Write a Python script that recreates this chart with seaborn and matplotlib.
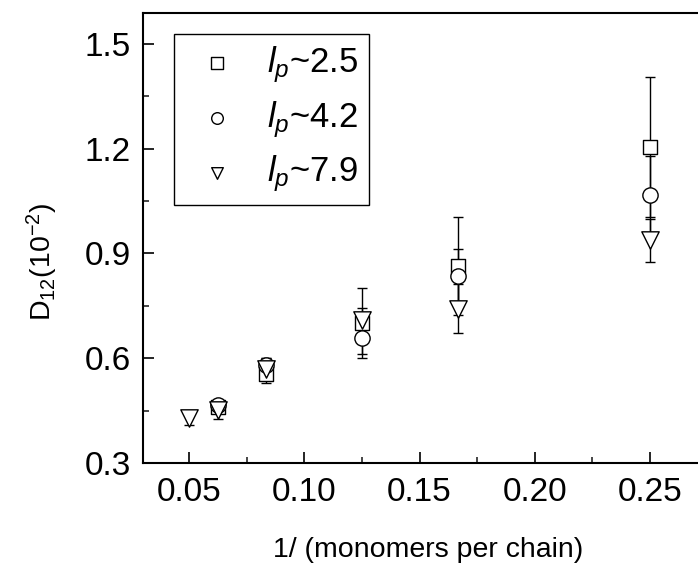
import matplotlib
matplotlib.use("Agg")
import matplotlib.pyplot as plt
import seaborn as sns
import pandas as pd
import numpy as np
from matplotlib.ticker import MultipleLocator

# ---- data ----
x_sq = [0.0625, 0.0833, 0.125, 0.1667, 0.25]
y_sq = [0.46, 0.555, 0.70, 0.865, 1.205]
e_sq = [0.01, 0.027, 0.10, 0.14, 0.20]

x_ci = [0.0625, 0.0833, 0.125, 0.1667, 0.25]
y_ci = [0.466, 0.58, 0.658, 0.834, 1.068]
e_ci = [0.01, 0.02, 0.047, 0.079, 0.11]

x_tr = [0.05, 0.0625, 0.0833, 0.125, 0.1667, 0.25]
y_tr = [0.43, 0.451, 0.57, 0.709, 0.742, 0.937]
e_tr = [0.02, 0.025, 0.03, 0.036, 0.071, 0.062]

labels = [r"$\mathit{l}_{p}$~2.5", r"$\mathit{l}_{p}$~4.2", r"$\mathit{l}_{p}$~7.9"]
xtick_labels = ["0.05", "0.10", "0.15", "0.20", "0.25"]
ytick_labels = ["0.3", "0.6", "0.9", "1.2", "1.5"]
markers = ["s", "o", "v"]
msizes = [9.5, 11, 12.5]

sns.set_theme(style="ticks")
plt.rcParams["font.family"] = ["Liberation Sans", "DejaVu Sans"]
plt.rcParams["mathtext.fontset"] = "custom"
plt.rcParams["mathtext.rm"] = "Liberation Sans"
plt.rcParams["mathtext.it"] = "Liberation Sans:italic"
plt.rcParams["text.color"] = "black"
plt.rcParams["axes.labelcolor"] = "black"

frames = []
for lab, xs, ys, es in zip(labels, [x_sq, x_ci, x_tr], [y_sq, y_ci, y_tr], [e_sq, e_ci, e_tr]):
    frames.append(pd.DataFrame({"x": xs, "y": ys, "err": es, "series": lab}))
df = pd.concat(frames, ignore_index=True)

fig = plt.figure(figsize=(6.98, 5.74), dpi=100)
ax = fig.add_axes([0.2049, 0.1934, 0.7951, 0.7844])

for lab in labels:
    d = df[df.series == lab]
    ax.errorbar(d.x, d.y, yerr=d.err, fmt="none", ecolor="black", elinewidth=1.0,
                capsize=3.6, capthick=1.0, zorder=2)

for lab, m, s in zip(labels, markers, msizes):
    d = df[df.series == lab]
    sns.scatterplot(data=d, x="x", y="y", marker=m, s=s**2, facecolor="white",
                    edgecolor="black", linewidth=1.0, ax=ax, label=lab, zorder=3)

ax.set_xlim(0.0300, 0.2708)
ax.set_ylim(0.3, 1.589)
ax.xaxis.set_minor_locator(MultipleLocator(0.025))
ax.yaxis.set_minor_locator(MultipleLocator(0.15))
ax.set_xticks([0.05, 0.10, 0.15, 0.20, 0.25])
ax.set_xticklabels(xtick_labels)
ax.set_yticks([0.3, 0.6, 0.9, 1.2, 1.5])
ax.set_yticklabels(ytick_labels)

ax.tick_params(axis="both", which="major", direction="in", length=8, width=1.2,
               labelsize=24, colors="black")
ax.tick_params(axis="both", which="minor", direction="in", length=4.5, width=1.2)
ax.tick_params(axis="x", which="major", pad=10)
ax.tick_params(axis="y", which="major", pad=9)

for side in ["left", "bottom", "top"]:
    ax.spines[side].set_linewidth(1.5)
    ax.spines[side].set_color("black")
ax.spines["right"].set_visible(False)

ax.set_xlabel("1/ (monomers per chain)", fontsize=20.5)
ax.set_ylabel(r"D$_{12}$(10$^{-2}$)", fontsize=20.5)
ax.xaxis.set_label_coords(0.513, -0.165)
ax.yaxis.set_label_coords(-0.150, 0.447)

leg = ax.legend(loc="upper left", bbox_to_anchor=(0.055, 0.953), fontsize=25,
                frameon=True, fancybox=False, framealpha=1, edgecolor="black",
                handletextpad=0.5, labelspacing=0.4, borderpad=0.3,
                handlelength=1.9, borderaxespad=0)
leg.get_frame().set_linewidth(1.0)
for h in leg.legend_handles:
    h.set_sizes([70])

fig.savefig("out.png", dpi=100)
